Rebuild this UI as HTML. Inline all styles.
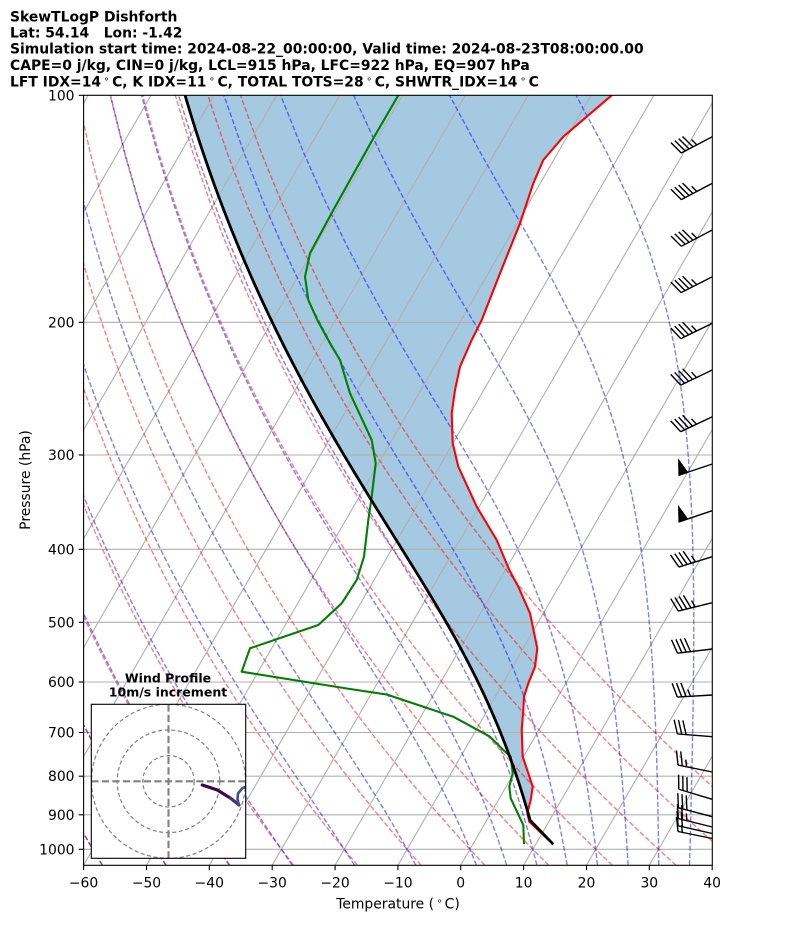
<!DOCTYPE html>
<html><head><meta charset="utf-8"><style>
html,body{margin:0;padding:0;background:#fff;width:794px;height:937px;overflow:hidden}
svg{display:block}
text{font-family:"DejaVu Sans","Liberation Sans",sans-serif;fill:#000}
</style></head><body>
<svg id="s" width="794" height="937" viewBox="0 0 794 937" xmlns="http://www.w3.org/2000/svg">
<defs>
<clipPath id="pa"><rect x="83.6" y="95.3" width="628.7" height="770"/></clipPath>
<clipPath id="ha"><rect x="91.3" y="704.3" width="154.4" height="154"/></clipPath>
</defs>
<rect width="794" height="937" fill="#fff"/>
<g clip-path="url(#pa)">
 <path id="fill" fill="#1f77b4" fill-opacity="0.4" stroke="none"/>
 <g id="grid" stroke="#b0b0b0" stroke-width="1.1" fill="none">
  <line x1="83" y1="322.3" x2="713" y2="322.3"/>
  <line x1="83" y1="455.0" x2="713" y2="455.0"/>
  <line x1="83" y1="549.3" x2="713" y2="549.3"/>
  <line x1="83" y1="622.3" x2="713" y2="622.3"/>
  <line x1="83" y1="682.0" x2="713" y2="682.0"/>
  <line x1="83" y1="732.5" x2="713" y2="732.5"/>
  <line x1="83" y1="776.2" x2="713" y2="776.2"/>
  <line x1="83" y1="814.8" x2="713" y2="814.8"/>
  <line x1="83" y1="849.3" x2="713" y2="849.3"/>
 </g>
 <g id="dry" stroke="#ff0000" stroke-opacity="0.5" stroke-width="1.4" stroke-dasharray="5.1 2.2" fill="none"></g>
 <g id="moist" stroke="#0000ff" stroke-opacity="0.5" stroke-width="1.4" stroke-dasharray="5.1 2.2" fill="none"></g>
 <path id="T" stroke="#ff0000" stroke-width="2.1" fill="none" stroke-linejoin="round" d="M630,80 L611.7,95.3 L586.7,116.7 L563.3,136.7 L543.3,160 L533.3,183.3 L520,223.3 L500,273.3 L481.7,320 L471.7,340 L460,366.7 L455,390 L451.7,413.3 L452.7,443.3 L458.3,466.7 L476.7,506.7 L496.7,540 L509.3,570 L518.3,586.7 L530,613.3 L537.3,648.3 L535,666.7 L528.3,683.3 L524,696.7 L523.3,710 L521.7,730 L522.7,756.7 L528.3,773.3 L532.7,786.7 L530.7,800 L527.3,813.3 L529.3,821.7 L553.3,844.3"/>
 <path id="Td" stroke="#008000" stroke-width="2.1" fill="none" stroke-linejoin="round" d="M405,84 L398.3,95.3 L373.3,138.3 L333.3,210 L318.2,238 L310,253.3 L305,276.7 L308.3,300 L317.3,320 L330,343.3 L340,360 L350,393.3 L371.7,440 L375.7,463.3 L371.7,496.7 L368.3,520 L364,556.7 L356.7,580 L341.7,603.3 L318.3,625 L250,648.3 L241.7,671.7 L350,689 L386.7,694.5 L453.3,716.7 L490,736.7 L503.3,750 L510.7,756.7 L512.7,773.3 L509.3,786.7 L510.7,798.3 L523.3,825 L524,844"/>
 <path id="parcel" stroke="#000" stroke-width="2.8" fill="none" stroke-linejoin="round"/>
 <g id="barbs" stroke="#000" stroke-width="1.4" fill="none" stroke-linecap="butt"></g>
</g>

<!-- hodograph inset -->
<rect x="91.3" y="704.3" width="154.4" height="154" fill="#fff"/>
<g clip-path="url(#ha)">
 <g fill="none" stroke="#808080" stroke-width="1.2" stroke-dasharray="4 2.6">
  <circle cx="168.5" cy="781.3" r="25.7"/>
  <circle cx="168.5" cy="781.3" r="51.3"/>
  <circle cx="168.5" cy="781.3" r="77"/>
 </g>
 <g stroke="#808080" stroke-width="2.1" stroke-dasharray="7.3 3.2">
  <line x1="91.3" y1="781.3" x2="245.7" y2="781.3"/>
  <line x1="168.5" y1="704.3" x2="168.5" y2="858.3"/>
 </g>
 <path d="M202.3,785 L217.3,790 L230.7,798.3" stroke="#440154" stroke-width="3.2" fill="none" stroke-linecap="round"/>
 <path d="M230.7,798.3 L239,805" stroke="#46307e" stroke-width="3.2" fill="none" stroke-linecap="round"/>
 <path d="M239,805 L237.5,799 L238,793.5 L242.3,788.3 L246,786.5 L252,785" stroke="#3b528b" stroke-width="2.6" fill="none"/>
</g>
<rect x="91.3" y="704.3" width="154.4" height="154" fill="none" stroke="#000" stroke-width="1.1"/>
<text x="168" y="682.3" font-size="12.5" font-weight="bold" text-anchor="middle">Wind Profile</text>
<text x="168" y="696.3" font-size="12.5" font-weight="bold" text-anchor="middle">10m/s increment</text>

<!-- axes frame -->
<rect x="83.6" y="95.3" width="628.7" height="770" fill="none" stroke="#000" stroke-width="1.1"/>

<!-- y ticks -->
<g stroke="#000" stroke-width="1.1">
 <line x1="78.7" y1="95.3" x2="83.6" y2="95.3"/>
 <line x1="78.7" y1="322.3" x2="83.6" y2="322.3"/>
 <line x1="78.7" y1="455.0" x2="83.6" y2="455.0"/>
 <line x1="78.7" y1="549.3" x2="83.6" y2="549.3"/>
 <line x1="78.7" y1="622.3" x2="83.6" y2="622.3"/>
 <line x1="78.7" y1="682.0" x2="83.6" y2="682.0"/>
 <line x1="78.7" y1="732.5" x2="83.6" y2="732.5"/>
 <line x1="78.7" y1="776.2" x2="83.6" y2="776.2"/>
 <line x1="78.7" y1="814.8" x2="83.6" y2="814.8"/>
 <line x1="78.7" y1="849.3" x2="83.6" y2="849.3"/>
</g>
<g font-size="13.9" text-anchor="end">
 <text x="74.5" y="100.3">100</text>
 <text x="74.5" y="327.3">200</text>
 <text x="74.5" y="460.0">300</text>
 <text x="74.5" y="554.3">400</text>
 <text x="74.5" y="627.3">500</text>
 <text x="74.5" y="687.0">600</text>
 <text x="74.5" y="737.5">700</text>
 <text x="74.5" y="781.2">800</text>
 <text x="74.5" y="819.8">900</text>
 <text x="74.5" y="854.3">1000</text>
</g>
<!-- x ticks -->
<g stroke="#000" stroke-width="1.1">
 <line x1="83.6" y1="865.3" x2="83.6" y2="870.2"/>
 <line x1="146.5" y1="865.3" x2="146.5" y2="870.2"/>
 <line x1="209.3" y1="865.3" x2="209.3" y2="870.2"/>
 <line x1="272.2" y1="865.3" x2="272.2" y2="870.2"/>
 <line x1="335.1" y1="865.3" x2="335.1" y2="870.2"/>
 <line x1="397.9" y1="865.3" x2="397.9" y2="870.2"/>
 <line x1="460.7" y1="865.3" x2="460.7" y2="870.2"/>
 <line x1="523.6" y1="865.3" x2="523.6" y2="870.2"/>
 <line x1="586.5" y1="865.3" x2="586.5" y2="870.2"/>
 <line x1="649.3" y1="865.3" x2="649.3" y2="870.2"/>
 <line x1="712.2" y1="865.3" x2="712.2" y2="870.2"/>
</g>
<g font-size="13.9" text-anchor="middle">
 <text x="83.6" y="887.7">−60</text>
 <text x="146.5" y="887.7">−50</text>
 <text x="209.3" y="887.7">−40</text>
 <text x="272.2" y="887.7">−30</text>
 <text x="335.1" y="887.7">−20</text>
 <text x="397.9" y="887.7">−10</text>
 <text x="460.7" y="887.7">0</text>
 <text x="523.6" y="887.7">10</text>
 <text x="586.5" y="887.7">20</text>
 <text x="649.3" y="887.7">30</text>
 <text x="712.2" y="887.7">40</text>
</g>
<text x="398" y="908.4" font-size="13.9" text-anchor="middle">Temperature (<tspan font-size="9.7" dy="-4.5" dx="2.5">∘</tspan><tspan dy="4.5" dx="2">C)</tspan></text>
<text transform="translate(30,480) rotate(-90)" font-size="13.9" text-anchor="middle">Pressure (hPa)</text>

<!-- titles -->
<g font-size="13.9" font-weight="bold">
 <text x="10" y="21.3">SkewTLogP Dishforth</text>
 <text x="10" y="37.3" xml:space="preserve">Lat: 54.14   Lon: -1.42</text>
 <text x="10" y="53.3">Simulation start time: 2024-08-22_00:00:00, Valid time: 2024-08-23T08:00:00.00</text>
 <text x="10" y="70">CAPE=0 j/kg, CIN=0 j/kg, LCL=915 hPa, LFC=922 hPa, EQ=907 hPa</text>
 <text x="10" y="86.7">LFT IDX=14<tspan font-size="9.7" font-weight="normal" dy="-4.5" dx="2.5">∘</tspan><tspan dy="4.5" dx="2.5">C, K IDX=11</tspan><tspan font-size="9.7" font-weight="normal" dy="-4.5" dx="2.5">∘</tspan><tspan dy="4.5" dx="2.5">C, TOTAL TOTS=28</tspan><tspan font-size="9.7" font-weight="normal" dy="-4.5" dx="2.5">∘</tspan><tspan dy="4.5" dx="2.5">C, SHWTR_IDX=14</tspan><tspan font-size="9.7" font-weight="normal" dy="-4.5" dx="2.5">∘</tspan><tspan dy="4.5" dx="2.5">C</tspan></text>
</g>
</svg>
<script>
(function(){
const NS='http://www.w3.org/2000/svg';
const X0=83.6, SC=6.2857, K=0.57735, YB=865.3, Y1000=849.3, DEC=754;
const yP=p=>Y1000+(Math.log10(p)-3)*DEC;
const xTP=(Tc,p)=>X0+(Tc+60)*SC+K*(YB-yP(p));
const Rd=287.04749, Cp=1004.6662, Lv=2.50084e6, eps=0.6219569, kap=Rd/Cp;
function es(T){const c=T-273.15;return 6.112*Math.exp(17.67*c/(c+243.5));}
function rs(p,T){const e=es(T);return eps*e/(p-e);}
function f(p,T){const r=rs(p,T);return (Rd*T+Lv*r)/(Cp+Lv*Lv*r*eps/(Rd*T*T))/p;}
function integ(p0,T0,p1){const n=Math.max(1,Math.ceil(Math.abs(p1-p0)/2));const h=(p1-p0)/n;let p=p0,T=T0;
 for(let i=0;i<n;i++){const k1=f(p,T),k2=f(p+h/2,T+h/2*k1),k3=f(p+h/2,T+h/2*k2),k4=f(p+h,T+h*k3);T+=h/6*(k1+2*k2+2*k3+k4);p+=h;}return T;}
function add(gid,tag,attrs){const e=document.createElementNS(NS,tag);for(const k in attrs)e.setAttribute(k,attrs[k]);document.getElementById(gid).appendChild(e);return e;}
function pathFrom(pts){return pts.map((q,i)=>(i?'L':'M')+q[0].toFixed(2)+','+q[1].toFixed(2)).join(' ');}
for(let T=-140;T<=40;T+=10){const xb=X0+(T+60)*SC;add('grid','line',{x1:xb.toFixed(2),y1:YB,x2:(xb+K*(YB-95.3)).toFixed(2),y2:95.3});}
const ps=[];for(let i=0;i<50;i++)ps.push(1050-i*(950/49));
for(let t0=-60;t0<=50;t0+=10){const th=t0+273.15;const pts=ps.map(p=>[xTP(th*Math.pow(p/1000,kap)-273.15,p),yP(p)]);add('dry','path',{d:pathFrom(pts)});}
const mt=[-60,-50,-40,-30,-20,-10,0,5,10,15,20,25,30,35,40];
for(const t0 of mt){let T=integ(1000,t0+273.15,ps[0]);let pp=ps[0];const pts=[];
 for(let i=0;i<ps.length;i++){if(i>0){T=integ(pp,T,ps[i]);pp=ps[i];}pts.push([xTP(T-273.15,ps[i]),yP(ps[i])]);}
 add('moist','path',{d:pathFrom(pts)});}
const pm=501.4,Tm=273.15-24.46;
let arrUp=[[pm,Tm]];let p=pm,T=Tm;
for(let q=pm-5;q>=95;q-=5){T=integ(p,T,q);p=q;arrUp.push([q,T]);}
T=integ(p,T,93);arrUp.push([93,T]);
let arrDn=[];p=pm;T=Tm;
for(let q=pm+5;q<915;q+=5){T=integ(p,T,q);p=q;arrDn.push([q,T]);}
T=integ(p,T,915);arrDn.push([915,T]);
const par=arrUp.reverse().concat(arrDn).map(a=>[xTP(a[1]-273.15,a[0]),yP(a[0])]);
const parFull=par.concat([[553.3,844.3]]);
document.getElementById('parcel').setAttribute('d',pathFrom(parFull));
const red=[[630,80],[611.7,95.3],[586.7,116.7],[563.3,136.7],[543.3,160],[533.3,183.3],[520,223.3],[500,273.3],[481.7,320],[471.7,340],[460,366.7],[455,390],[451.7,413.3],[452.7,443.3],[458.3,466.7],[476.7,506.7],[496.7,540],[509.3,570],[518.3,586.7],[530,613.3],[537.3,648.3],[535,666.7],[528.3,683.3],[524,696.7],[523.3,710],[521.7,730],[522.7,756.7],[528.3,773.3],[532.7,786.7],[530.7,800],[527.3,813.3],[529.3,821.7]];
const poly=red.concat(par.slice().reverse());
document.getElementById('fill').setAttribute('d',pathFrom(poly)+' Z');
const AX=712.3, L=35, H=0.4*L, W=0.25*L, SP=0.125*L;
const B=[[136.7,-0.885,0.466,0,4,1],[183.3,-0.885,0.466,0,4,1],[230,-0.885,0.466,0,4,1],[276.7,-0.89,0.455,0,4,1],[323.3,-0.9,0.44,0,4,1],[370,-0.9,0.43,0,4,1],[416.7,-0.904,0.428,0,4,1],
[464,-0.948,0.318,1,0,0],[510.7,-0.948,0.318,1,0,0],[556.7,-0.955,0.295,0,4,1],[602.7,-0.97,0.24,0,4,1],[649,-0.99,0.12,0,4,0],[695,-0.998,0.06,0,3,1],
[736.7,-0.997,-0.078,0,3,0],[772,-0.98,-0.197,0,2,1],[799.3,-0.958,-0.287,0,3,0],[816.7,-0.967,-0.254,0,3,0],[827,-0.97,-0.24,0,2,1],[833.5,-0.975,-0.22,0,2,0],[838.5,-0.98,-0.2,0,1,1]];
for(const b of B){const ay=b[0];let ux=b[1],uy=b[2];const n=Math.hypot(ux,uy);ux/=n;uy/=n;const nx=-uy,ny=ux;
 const P=(d,h)=>[(AX+ux*d+nx*h).toFixed(2),(ay+uy*d+ny*h).toFixed(2)];
 let d='M'+AX+','+ay+' L'+P(L,0).join(',');let off=L;
 for(let i=0;i<b[3];i++){if(off!=L)off+=SP/2;add('barbs','path',{d:'M'+P(off,0).join(',')+' L'+P(off-W/2,H).join(',')+' L'+P(off-W,0).join(',')+' Z',fill:'#000'});off-=W+SP;}
 for(let i=0;i<b[4];i++){d+=' M'+P(off,0).join(',')+' L'+P(off+W/2,H).join(',');off-=SP;}
 if(b[5]){if(off==L)off-=1.5*SP;d+=' M'+P(off,0).join(',')+' L'+P(off+W/4,H/2).join(',');}
 add('barbs','path',{d:d});}
})();
</script>
</body></html>
